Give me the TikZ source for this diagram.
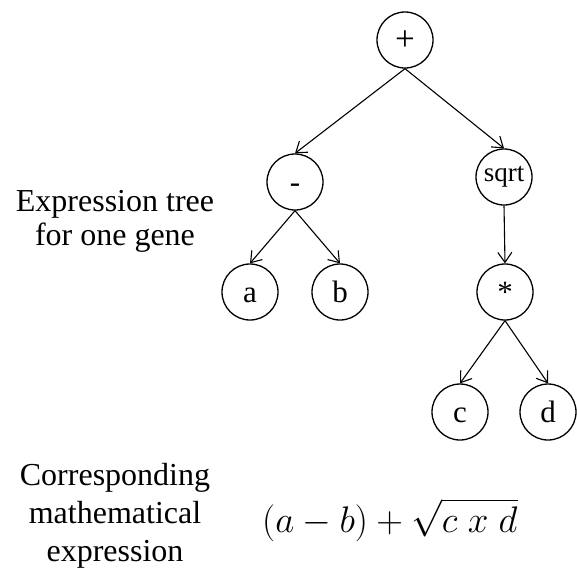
\RequirePackage{fix-cm}
\documentclass[tikz,border=0pt]{standalone}
\usepackage{fontspec}
\setmainfont{Liberation Serif}
\usetikzlibrary{arrows.meta,positioning}

\begin{document}
\begin{tikzpicture}[x=1pt, y=-1pt, every node/.style={font=\fontsize{31}{36}\selectfont}]
\useasboundingbox (0,0) rectangle (577,574);
\node[draw, circle, line width=1.3pt, minimum size=56pt, inner sep=0pt, text height=24pt, text depth=4pt, font=\fontsize{35}{36}\selectfont] (plus) at (405,40) {+};
\node[draw, circle, line width=1.3pt, minimum size=56pt, inner sep=0pt, text height=24pt, text depth=4pt] (minus) at (295,182) {-};
\node[draw, circle, line width=1.3pt, minimum size=56pt, inner sep=0pt, font=\fontsize{27}{30}\selectfont] (sqrt) at (504,177) {sqrt};
\node[draw, circle, line width=1.3pt, minimum size=56pt, inner sep=0pt, text height=24pt, text depth=4pt] (a) at (250,292) {a};
\node[draw, circle, line width=1.3pt, minimum size=56pt, inner sep=0pt, text height=24pt, text depth=4pt] (b) at (340,292) {b};
\node[draw, circle, line width=1.3pt, minimum size=56pt, inner sep=0pt, text height=24pt, text depth=4pt] (star) at (505,292) {*};
\node[draw, circle, line width=1.3pt, minimum size=56pt, inner sep=0pt, text height=24pt, text depth=4pt] (c) at (460,412) {c};
\node[draw, circle, line width=1.3pt, minimum size=56pt, inner sep=0pt, text height=24pt, text depth=4pt] (d) at (548,412) {d};

\draw[-{Straight Barb[length=10pt,width=14pt]}, line width=1.1pt] (plus.south) -- (minus.north);
\draw[-{Straight Barb[length=10pt,width=14pt]}, line width=1.1pt] (plus.south) -- (sqrt.north);
\draw[-{Straight Barb[length=10pt,width=14pt]}, line width=1.1pt] (minus.south) -- (a.north);
\draw[-{Straight Barb[length=10pt,width=14pt]}, line width=1.1pt] (minus.south) -- (b.north);
\draw[-{Straight Barb[length=10pt,width=14pt]}, line width=1.1pt] (sqrt.south) -- (star.north);
\draw[-{Straight Barb[length=10pt,width=14pt]}, line width=1.1pt] (star.south) -- (c.north);
\draw[-{Straight Barb[length=10pt,width=14pt]}, line width=1.1pt] (star.south) -- (d.north);

\node[align=center, font=\fontsize{32}{34}\selectfont] (treetext) at (115,221) {Expression tree\\for one gene};
\node[align=center, font=\fontsize{32}{38}\selectfont] (corrtext) at (115,516) {Corresponding\\mathematical\\expression};
\node[anchor=base west, inner sep=0pt, font=\fontsize{37}{40}\selectfont] (formula) at (262,532) {$(a-b)+\sqrt{c\;x\;d}$};
\end{tikzpicture}
\end{document}
